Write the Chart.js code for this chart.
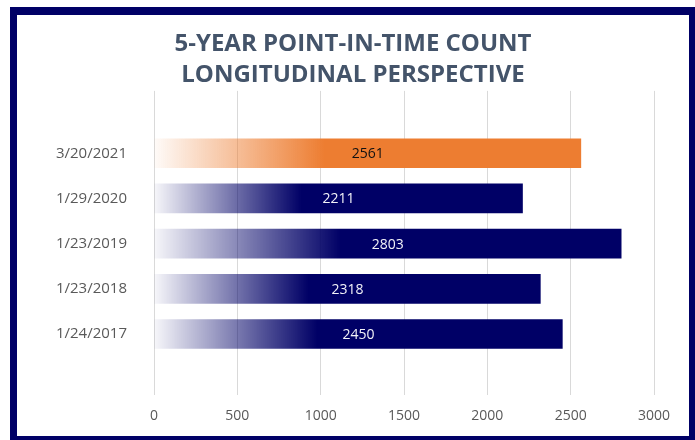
<!DOCTYPE html>
<html>
<head>
<meta charset="utf-8">
<script src="https://cdn.jsdelivr.net/npm/chart.js@4"></script>
<style>
  html, body { margin: 0; padding: 0; background: #fff; width: 695px; height: 440px; overflow: hidden; }
  .frame {
    position: absolute; left: 10px; top: 7px;
    width: 686px; height: 436px; box-sizing: border-box;
    border: 7px solid #000066; border-top-width: 8px;
  }
  .wrap { position: absolute; left: 0; top: 0; width: 672px; height: 421px; }
</style>
</head>
<body>
<div class="frame"><div class="wrap"><canvas id="pitChart"></canvas></div></div>
<script>
// point-in-time counts, newest first
var countDates = ["3/20/2021", "1/29/2020", "1/23/2019", "1/23/2018", "1/24/2017"];
var counts = [2561, 2211, 2803, 2318, 2450];
var xTicks = [0, 500, 1000, 1500, 2000, 2500, 3000];

var NAVY = [0, 0, 102];
var ORANGE = [237, 125, 49];

function rgba(c, a) {
  return 'rgba(' + c[0] + ',' + c[1] + ',' + c[2] + ',' + a + ')';
}

// white -> colour over the first 40% of each bar
function barFill(context) {
  var chart = context.chart;
  var base = context.dataIndex === 0 ? ORANGE : NAVY;
  var xs = chart.scales.x;
  if (!chart.chartArea || !xs) return rgba(base, 1);
  var x0 = xs.getPixelForValue(0);
  var x1 = xs.getPixelForValue(counts[context.dataIndex]);
  var g = chart.ctx.createLinearGradient(x0, 0, x1, 0);
  g.addColorStop(0, rgba(base, 0.03));
  g.addColorStop(0.4, rgba(base, 1));
  g.addColorStop(1, rgba(base, 1));
  return g;
}

// value written in the middle of each bar
var barValues = {
  id: 'barValues',
  afterDatasetsDraw: function(chart) {
    var ctx = chart.ctx;
    var meta = chart.getDatasetMeta(0);
    ctx.save();
    ctx.font = '14px "Open Sans"';
    ctx.textAlign = 'center';
    ctx.textBaseline = 'middle';
    meta.data.forEach(function(bar, i) {
      ctx.fillStyle = i === 0 ? '#111111' : '#f2f2f8';
      ctx.fillText(counts[i], (bar.x + bar.base) / 2, bar.y + 1);
    });
    ctx.restore();
  }
};

var ctx = document.getElementById("pitChart").getContext('2d');
var pitChart = new Chart(ctx, {
  type: 'bar',
  data: {
    datasets: [{
      data: counts.map(function(v, i) { return { x: v, y: i }; }),
      backgroundColor: barFill,
      borderWidth: 0,
      barThickness: 29
    }]
  },
  options: {
    indexAxis: 'y',
    responsive: true,
    maintainAspectRatio: false,
    animation: false,
    layout: { padding: 0 },
    plugins: {
      legend: { display: false },
      tooltip: { enabled: false },
      title: {
        display: true,
        text: ['5-YEAR POINT-IN-TIME COUNT', 'LONGITUDINAL PERSPECTIVE'],
        color: '#44546A',
        font: { family: '"Open Sans"', size: 24, weight: 'bold', lineHeight: 1.31 },
        padding: { top: 13, bottom: 0 }
      }
    },
    scales: {
      x: {
        min: 0,
        max: 3000,
        afterBuildTicks: function(scale) {
          scale.ticks = xTicks.map(function(v) { return { value: v }; });
        },
        afterFit: function(scale) { scale.height = 41; },
        grid: { color: '#d9d9d9', lineWidth: 1, drawTicks: false },
        border: { display: false },
        ticks: {
          color: '#595959',
          padding: 13,
          font: { family: '"Open Sans"', size: 14 },
          callback: function(v) { return String(v); }
        }
      },
      y: {
        type: 'linear',
        reverse: true,
        offset: false,
        min: -1.38,
        max: 5.35,
        afterBuildTicks: function(scale) {
          scale.ticks = countDates.map(function(d, i) { return { value: i }; });
        },
        afterFit: function(scale) { scale.width = 137; },
        grid: { display: false, drawTicks: false, offset: false },
        border: { display: false },
        ticks: {
          color: '#595959',
          padding: 27,
          font: { family: '"Open Sans"', size: 15 },
          callback: function(v) { return countDates[v]; }
        }
      },
      // empty strip on the right so the plot stops short of the frame
      yRight: {
        type: 'linear',
        position: 'right',
        afterFit: function(scale) { scale.width = 35; },
        grid: { display: false, drawTicks: false },
        border: { display: false },
        ticks: { display: false }
      }
    }
  },
  plugins: [barValues]
});
</script>
</body>
</html>
